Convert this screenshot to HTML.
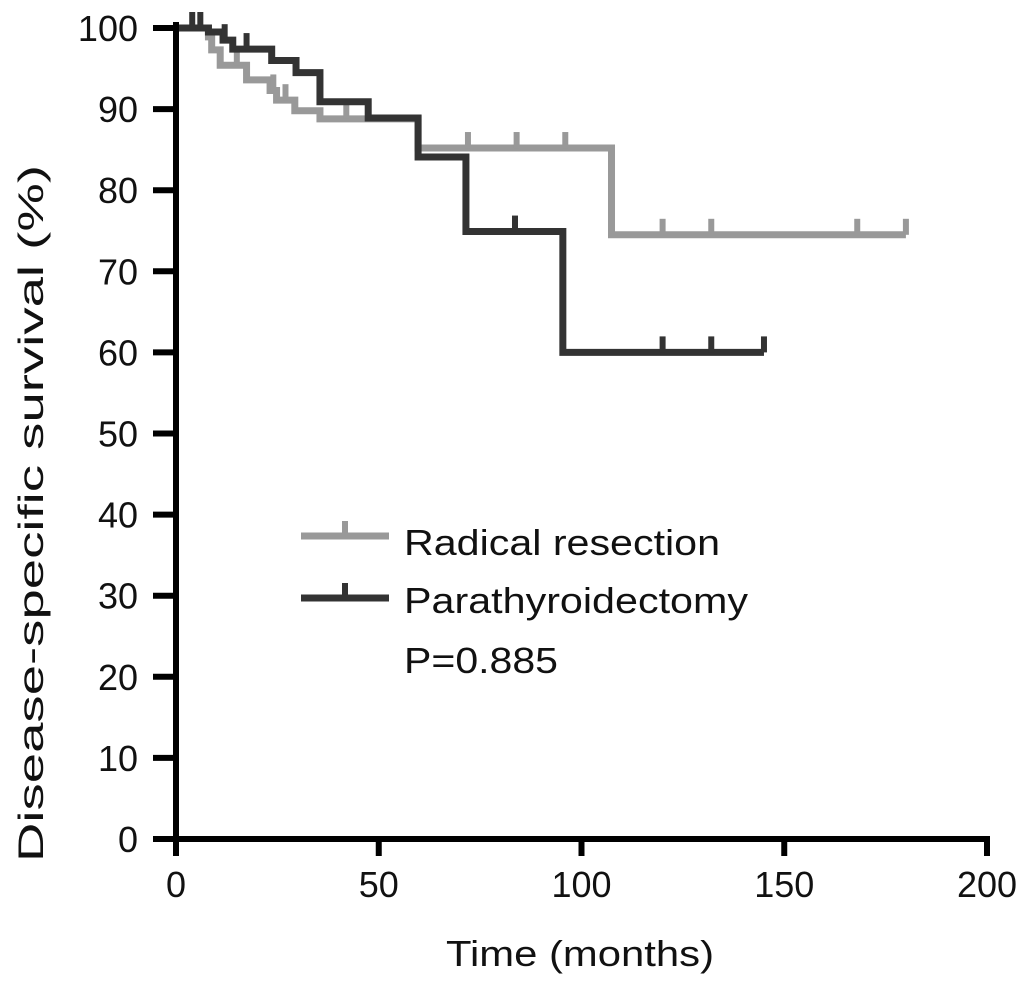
<!DOCTYPE html>
<html><head><meta charset="utf-8"><style>
body{margin:0;background:#fff}
svg{display:block;font-family:"Liberation Sans",Arial,sans-serif}
</style></head><body>
<svg id="chart" width="1031" height="988" viewBox="0 0 1031 988">
<g id="plot"></g>
<g id="axes"></g>
<text x="446" y="966" font-size="36" textLength="268" lengthAdjust="spacingAndGlyphs" fill="#111">Time (months)</text>
<text transform="translate(43,862) rotate(-90)" x="0" y="0" font-size="35" textLength="697" lengthAdjust="spacingAndGlyphs" fill="#111">Disease-specific survival (%)</text>
<g>
<g>
<line x1="301" y1="536" x2="389" y2="536" stroke="#999" stroke-width="7"/>
<line x1="345" y1="536" x2="345" y2="521" stroke="#999" stroke-width="6"/>
<text x="404" y="555" font-size="36" textLength="316" lengthAdjust="spacingAndGlyphs" fill="#111">Radical resection</text></g>
<g>
<line x1="301" y1="598" x2="389" y2="598" stroke="#333" stroke-width="7"/>
<line x1="345" y1="598" x2="345" y2="583" stroke="#333" stroke-width="6"/>
<text x="404" y="613" font-size="36" textLength="344" lengthAdjust="spacingAndGlyphs" fill="#111">Parathyroidectomy</text></g>
<text x="404" y="673" font-size="36" textLength="154" lengthAdjust="spacingAndGlyphs" fill="#111">P=0.885</text>
</g>
</svg>
<script>
const xTicks=[0,50,100,150,200];
const yTicks=[0,10,20,30,40,50,60,70,80,90,100];
const radicalTimes=[0,8,8.8,10.9,17.4,23.2,24.8,29.3,35.5,59.7,107.4];
const radicalSurv=[100,98.9,97.3,95.4,93.6,92.3,91.1,89.8,88.8,85.2,74.5];
const radicalEnd=180;
const radicalCensor=[15,24,27,42,72,84,96,120,132,168,180];
const paraTimes=[0,8,11.6,14,23.6,29.6,35.5,47.4,59.7,71.5,95.4];
const paraSurv=[100,99.5,98.5,97.4,96,94.5,90.9,88.9,84.1,74.9,60];
const paraEnd=145;
const paraCensor=[4,6,12,17.4,83.6,120,132,145];
const X=t=>176+t*4.055, Y=s=>839-s*8.11;
const NS="http://www.w3.org/2000/svg";
const plot=document.getElementById('plot'), axes=document.getElementById('axes');
function mk(tag,attrs,parent){const e=document.createElementNS(NS,tag);for(const k in attrs)e.setAttribute(k,attrs[k]);parent.appendChild(e);return e;}
function survAt(times,surv,t){let s=surv[0];for(let i=0;i<times.length;i++){if(times[i]<=t)s=surv[i];}return s;}
function drawSeries(times,surv,end,censor,color,name){
  const g=mk('g',{},plot);
  
  
  let d='M'+X(times[0])+','+Y(surv[0]);
  for(let i=1;i<times.length;i++){d+=' H'+X(times[i])+' V'+Y(surv[i]);}
  d+=' H'+X(end);
  const p=mk('path',{d:d,fill:'none',stroke:color,'stroke-width':7,'stroke-linejoin':'miter'},g);
  
  
  censor.forEach(t=>{const s=survAt(times,surv,t);
    const l=mk('line',{x1:X(t),x2:X(t),y1:Y(s),y2:Y(s)-16,stroke:color,'stroke-width':6},g);
    
    });
}
drawSeries(radicalTimes,radicalSurv,radicalEnd,radicalCensor,'#999','radical-resection');
drawSeries(paraTimes,paraSurv,paraEnd,paraCensor,'#333','parathyroidectomy');
mk('line',{x1:176,y1:Y(100)-6,x2:176,y2:842,stroke:'#000','stroke-width':6},axes);
mk('line',{x1:173,y1:839,x2:X(200)+3,y2:839,stroke:'#000','stroke-width':6},axes);
xTicks.forEach(t=>{mk('line',{x1:X(t),x2:X(t),y1:839,y2:856,stroke:'#000','stroke-width':6},axes);
  const tx=mk('text',{x:X(t),y:897,'font-size':36,'text-anchor':'middle',fill:'#111'},axes);tx.textContent=t;
  
  });
yTicks.forEach(s=>{mk('line',{x1:153,x2:176,y1:Y(s),y2:Y(s),stroke:'#000','stroke-width':6},axes);
  const tx=mk('text',{x:138,y:Y(s)+13,'font-size':36,'text-anchor':'end',fill:'#111'},axes);tx.textContent=s;
  
  });
</script>
</body></html>
